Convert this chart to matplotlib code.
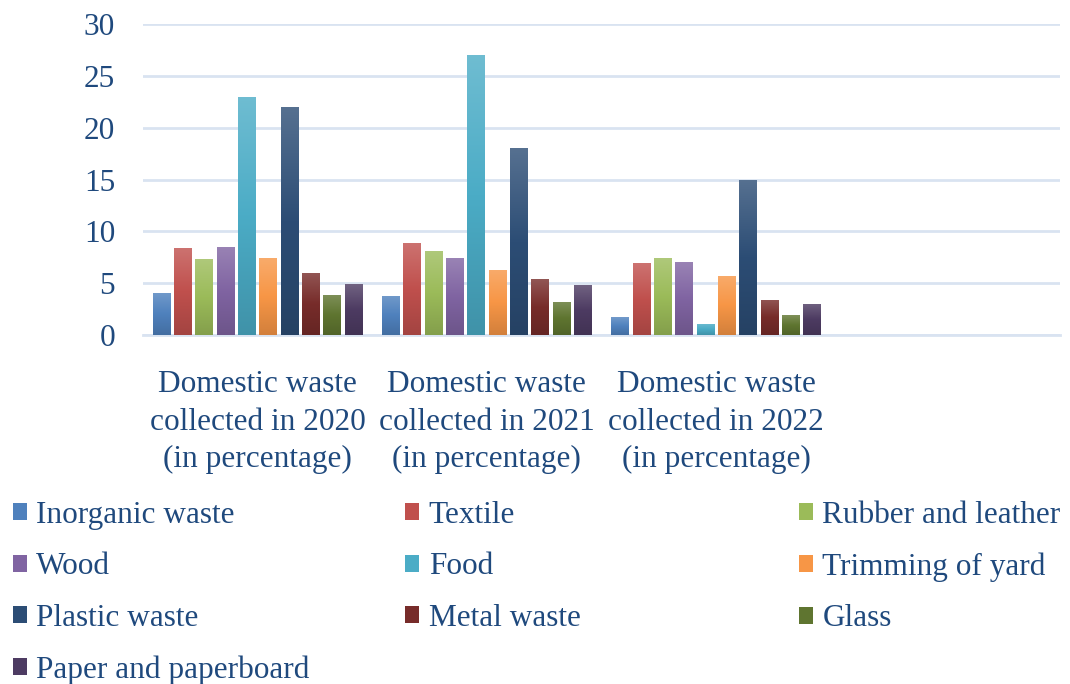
import numpy as np
import matplotlib.pyplot as plt
from matplotlib.colors import LinearSegmentedColormap, to_rgb

plt.rcParams['font.family'] = ['Liberation Serif', 'DejaVu Serif']

categories = ['Domestic waste\ncollected in 2020\n(in percentage)',
              'Domestic waste\ncollected in 2021\n(in percentage)',
              'Domestic waste\ncollected in 2022\n(in percentage)',
              '']
series = ['Inorganic waste', 'Textile', 'Rubber and leather', 'Wood', 'Food',
          'Trimming of yard', 'Plastic waste', 'Metal waste', 'Glass', 'Paper and paperboard']
inorganic = [4.1, 3.8, 1.7]
textile = [8.4, 8.9, 6.9]
rubber = [7.3, 8.1, 7.4]
wood = [8.5, 7.4, 7.0]
food = [23, 27, 1.1]
trimming = [7.4, 6.3, 5.7]
plastic = [22, 18, 15]
metal = [6.0, 5.4, 3.4]
glass = [3.9, 3.2, 1.9]
paper = [4.9, 4.8, 3.0]
values = [inorganic, textile, rubber, wood, food, trimming, plastic, metal, glass, paper]
colors = ['#4F81BD', '#C0504D', '#9BBB59', '#8064A2', '#4BACC6',
          '#F79646', '#2C4D75', '#772C2A', '#5F7530', '#4D3B62']
text_color = '#1F497D'
grid_color = '#D9E3F1'

fig = plt.figure(figsize=(10.7, 6.84), dpi=100)
ax = fig.add_axes([0.1336, 0.5102, 0.8571, 0.4547])

pitch = 0.093
width = 0.077
x = np.arange(len(categories))
handles = []
for i, (name, vals, c) in enumerate(zip(series, values, colors)):
    pos = x[:3] + (i - 4.5) * pitch
    bars = ax.bar(pos, vals, width=width, color=c, label=name, zorder=2)
    handles.append(bars)
    # excel style vertical gradient, lighter on top
    base = np.array(to_rgb(c))
    top = base + (1 - base) * 0.2
    bottom = base * 0.85
    cmap = LinearSegmentedColormap.from_list('g' + str(i), [bottom, base, top])
    grad = np.linspace(0, 1, 256).reshape(-1, 1)
    for r in bars:
        bx, bw, bh = r.get_x(), r.get_width(), r.get_height()
        im = ax.imshow(grad, cmap=cmap, extent=[bx, bx + bw, 0, bh], origin='lower',
                       aspect='auto', zorder=3)
        im.set_clip_path(r)

ax.set_xlim(-0.5, 3.5)
ax.set_ylim(0, 30)
ax.set_yticks(range(0, 31, 5))
ax.set_xticks(x)
ax.set_xticklabels(categories, linespacing=1.4)
ax.yaxis.grid(True, color=grid_color, linewidth=2)
ax.set_axisbelow(True)
for s in ['top', 'right', 'left']:
    ax.spines[s].set_visible(False)
ax.spines['bottom'].set_color(grid_color)
ax.spines['bottom'].set_linewidth(2)
ax.tick_params(axis='both', length=0, labelsize=22.5, colors=text_color)
ax.tick_params(axis='x', pad=25)
ax.tick_params(axis='y', pad=20)

# legend: 3 columns, row-major order like the original
cols = [[0, 3, 6, 9], [1, 4, 7], [2, 5, 8]]
xs = [0.0, 0.367, 0.735]
for xc, idx in zip(xs, cols):
    leg = fig.legend([handles[k] for k in idx], [series[k] for k in idx],
                     loc='upper left', bbox_to_anchor=(xc, 0.286), frameon=False,
                     fontsize=22.5, handlelength=0.45, handleheight=0.45,
                     handletextpad=0.3, labelspacing=0.72, borderaxespad=0)
    for t in leg.get_texts():
        t.set_color(text_color)

fig.savefig('out.png', dpi=100)
